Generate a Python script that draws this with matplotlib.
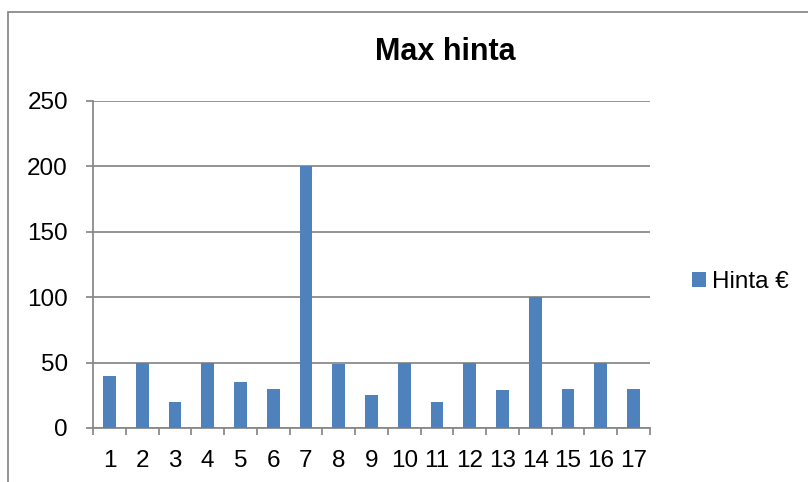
import matplotlib
matplotlib.use("Agg")
import matplotlib.pyplot as plt
from matplotlib.patches import Rectangle

categories = [str(i) for i in range(1, 18)]
values = [40, 50, 20, 50, 35, 30, 200, 49, 25, 50, 20, 50, 29, 100, 30, 50, 30]
yticks = [0, 50, 100, 150, 200, 250]
series_name = "Hinta €"
title = "Max hinta"

plt.rcParams['font.family'] = ['Liberation Sans', 'DejaVu Sans']
W, H = 808, 482
fig = plt.figure(figsize=(W / 100, H / 100), dpi=100)
ax = fig.add_axes([93 / W, 1 - 428 / H, (650 - 93) / W, (428 - 101) / H])

grey = '#868686'
blue = '#4F81BD'
fs = 17.5
x = list(range(len(categories)))
ax.bar(x, values, width=0.39, color=blue, zorder=3, label=series_name)
ax.set_xlim(-0.5, len(categories) - 0.5)
ax.set_ylim(0, 250)
ax.set_yticks(yticks)
ax.set_yticklabels([str(v) for v in yticks], fontsize=fs)
ax.set_xticks(x)
ax.set_xticklabels(categories, fontsize=fs)
ax.set_xticks([i - 0.5 for i in range(len(categories) + 1)], minor=True)
ax.tick_params(axis='x', which='major', length=0, pad=16)
ax.tick_params(axis='x', which='minor', length=5, color=grey, width=1.25, direction='out')
ax.tick_params(axis='y', which='major', length=5, color=grey, width=1.25, direction='out', pad=13)
ax.yaxis.grid(True, color=grey, linewidth=1.25, zorder=0)
for s in ['top', 'right']:
    ax.spines[s].set_visible(False)
for s in ['left', 'bottom']:
    ax.spines[s].set_color(grey)
    ax.spines[s].set_linewidth(1.25)
ax.set_axisbelow(True)

fig.text(445 / W, 1 - 60 / H, title, fontsize=22, fontweight='bold', ha='center', va='baseline')
leg = fig.legend(handles=ax.patches[:1], labels=[series_name], loc='center left',
                 bbox_to_anchor=(692 / W, 1 - 282 / H), frameon=False, fontsize=fs,
                 handlelength=0.58, handleheight=0.6, handletextpad=0.25, borderpad=0,
                 borderaxespad=0)

fig.patches.append(Rectangle((8 / W, -0.1), 1.2, 1 - 12 / H + 0.1, transform=fig.transFigure,
                             fill=False, edgecolor=grey, linewidth=1.25))
fig.savefig('out.png', dpi=100)
